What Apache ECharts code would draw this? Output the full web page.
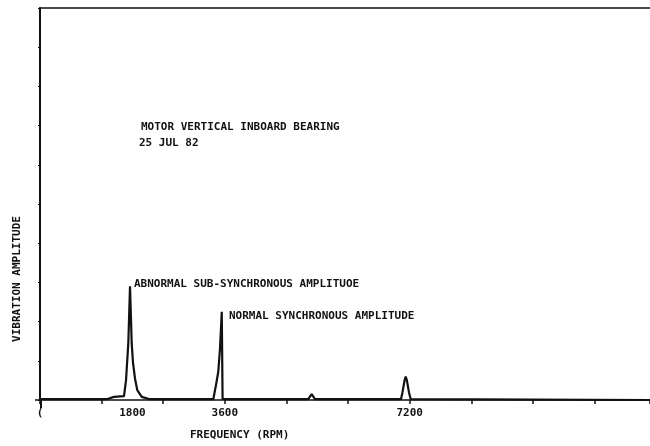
<!DOCTYPE html>
<html>
<head>
<meta charset="utf-8">
<script src="https://cdn.jsdelivr.net/npm/echarts@6/dist/echarts.min.js"></script>
<style>
  html, body { margin: 0; padding: 0; background: #fff; }
  #chart { width: 650px; height: 446px; }
</style>
</head>
<body>
<div id="chart"></div>
<script>
// spectrum trace
const freqRpm = [0, 1300, 1440, 1636, 1675, 1720, 1753, 1786, 1811, 1850, 1895, 1981, 2140,
  3375, 3427, 3472, 3505, 3540, 3556,
  5225, 5291, 5355,
  7030, 7060, 7100, 7122, 7145, 7185, 7220, 11880]
const amplitude = [0.02, 0.02, 0.08, 0.1, 0.5, 1.45, 2.9, 1.45, 0.95, 0.55, 0.25, 0.08, 0.02,
  0.02, 0.38, 0.72, 1.3, 2.25, 0.02,
  0.02, 0.15, 0.02,
  0.02, 0.2, 0.5, 0.6, 0.5, 0.2, 0.02, 0]

const freqLabels = ['(', '1800', '3600', '7200']
const labelAt = [0, 1800, 3600, 7200]

const font = '"DejaVu Sans Mono", monospace'
const txt = 'bold 11px ' + font
const ink = '#111'

const chart = echarts.init(document.getElementById('chart'))

chart.setOption({
  animation: false,
  grid: { left: 40, right: 0, top: 8, bottom: 46 },
  xAxis: [
    {
      type: 'value', min: 0, max: 11880, interval: 1200, position: 'bottom',
      axisLine: { show: true, onZero: false, lineStyle: { color: ink, width: 1.5 } },
      axisTick: { show: true, length: 4, lineStyle: { color: ink, width: 1.5 } },
      axisLabel: { show: false },
      splitLine: { show: false }
    },
    {
      type: 'value', min: 0, max: 11880, interval: 1800, position: 'bottom',
      axisLine: { show: false },
      axisTick: { show: false },
      splitLine: { show: false },
      axisLabel: {
        show: true, margin: 8, color: ink, fontFamily: font, fontSize: 11, fontWeight: 'bold',
        showMaxLabel: false,
        formatter: (v) => {
          const i = labelAt.indexOf(v)
          return i >= 0 ? freqLabels[i] : ''
        }
      }
    },
    {
      type: 'value', min: 0, max: 11880, position: 'top',
      axisLine: { show: true, onZero: false, lineStyle: { color: ink, width: 1.5 } },
      axisTick: { show: false },
      axisLabel: { show: false },
      splitLine: { show: false }
    }
  ],
  yAxis: {
    type: 'value', min: 0, max: 10, interval: 1,
    axisLine: { show: true, onZero: false, lineStyle: { color: ink, width: 2 } },
    axisTick: { show: true, length: 2, lineStyle: { color: ink, width: 1 } },
    axisLabel: { show: false },
    splitLine: { show: false }
  },
  series: [
    {
      type: 'line',
      xAxisIndex: 0,
      data: freqRpm.map((f, i) => [f, amplitude[i]]),
      symbol: 'none',
      lineStyle: { color: ink, width: 2.2 },
      z: 5
    }
  ],
  graphic: [
    { type: 'text', left: 141, top: 122, style: { text: 'MOTOR VERTICAL INBOARD BEARING', font: txt, fill: ink } },
    { type: 'text', left: 139, top: 138, style: { text: '25 JUL 82', font: txt, fill: ink } },
    { type: 'text', left: 134, top: 279, style: { text: 'ABNORMAL SUB-SYNCHRONOUS AMPLITUOE', font: txt, fill: ink } },
    { type: 'text', left: 229, top: 311, style: { text: 'NORMAL SYNCHRONOUS AMPLITUDE', font: txt, fill: ink } },
    { type: 'text', left: 190, top: 430, style: { text: 'FREQUENCY (RPM)', font: txt, fill: ink } },
    {
      type: 'text', x: 17, y: 279, rotation: Math.PI / 2,
      style: { text: 'VIBRATION AMPLITUDE', font: txt, fill: ink, align: 'center', verticalAlign: 'middle' }
    },
    // y axis runs a little below the baseline in the original
    { type: 'line', shape: { x1: 41, y1: 400, x2: 41, y2: 408 }, style: { stroke: ink, lineWidth: 2 } },
    { type: 'line', shape: { x1: 35, y1: 400, x2: 41, y2: 400 }, style: { stroke: ink, lineWidth: 1.5 } }
  ]
})
</script>
</body>
</html>
